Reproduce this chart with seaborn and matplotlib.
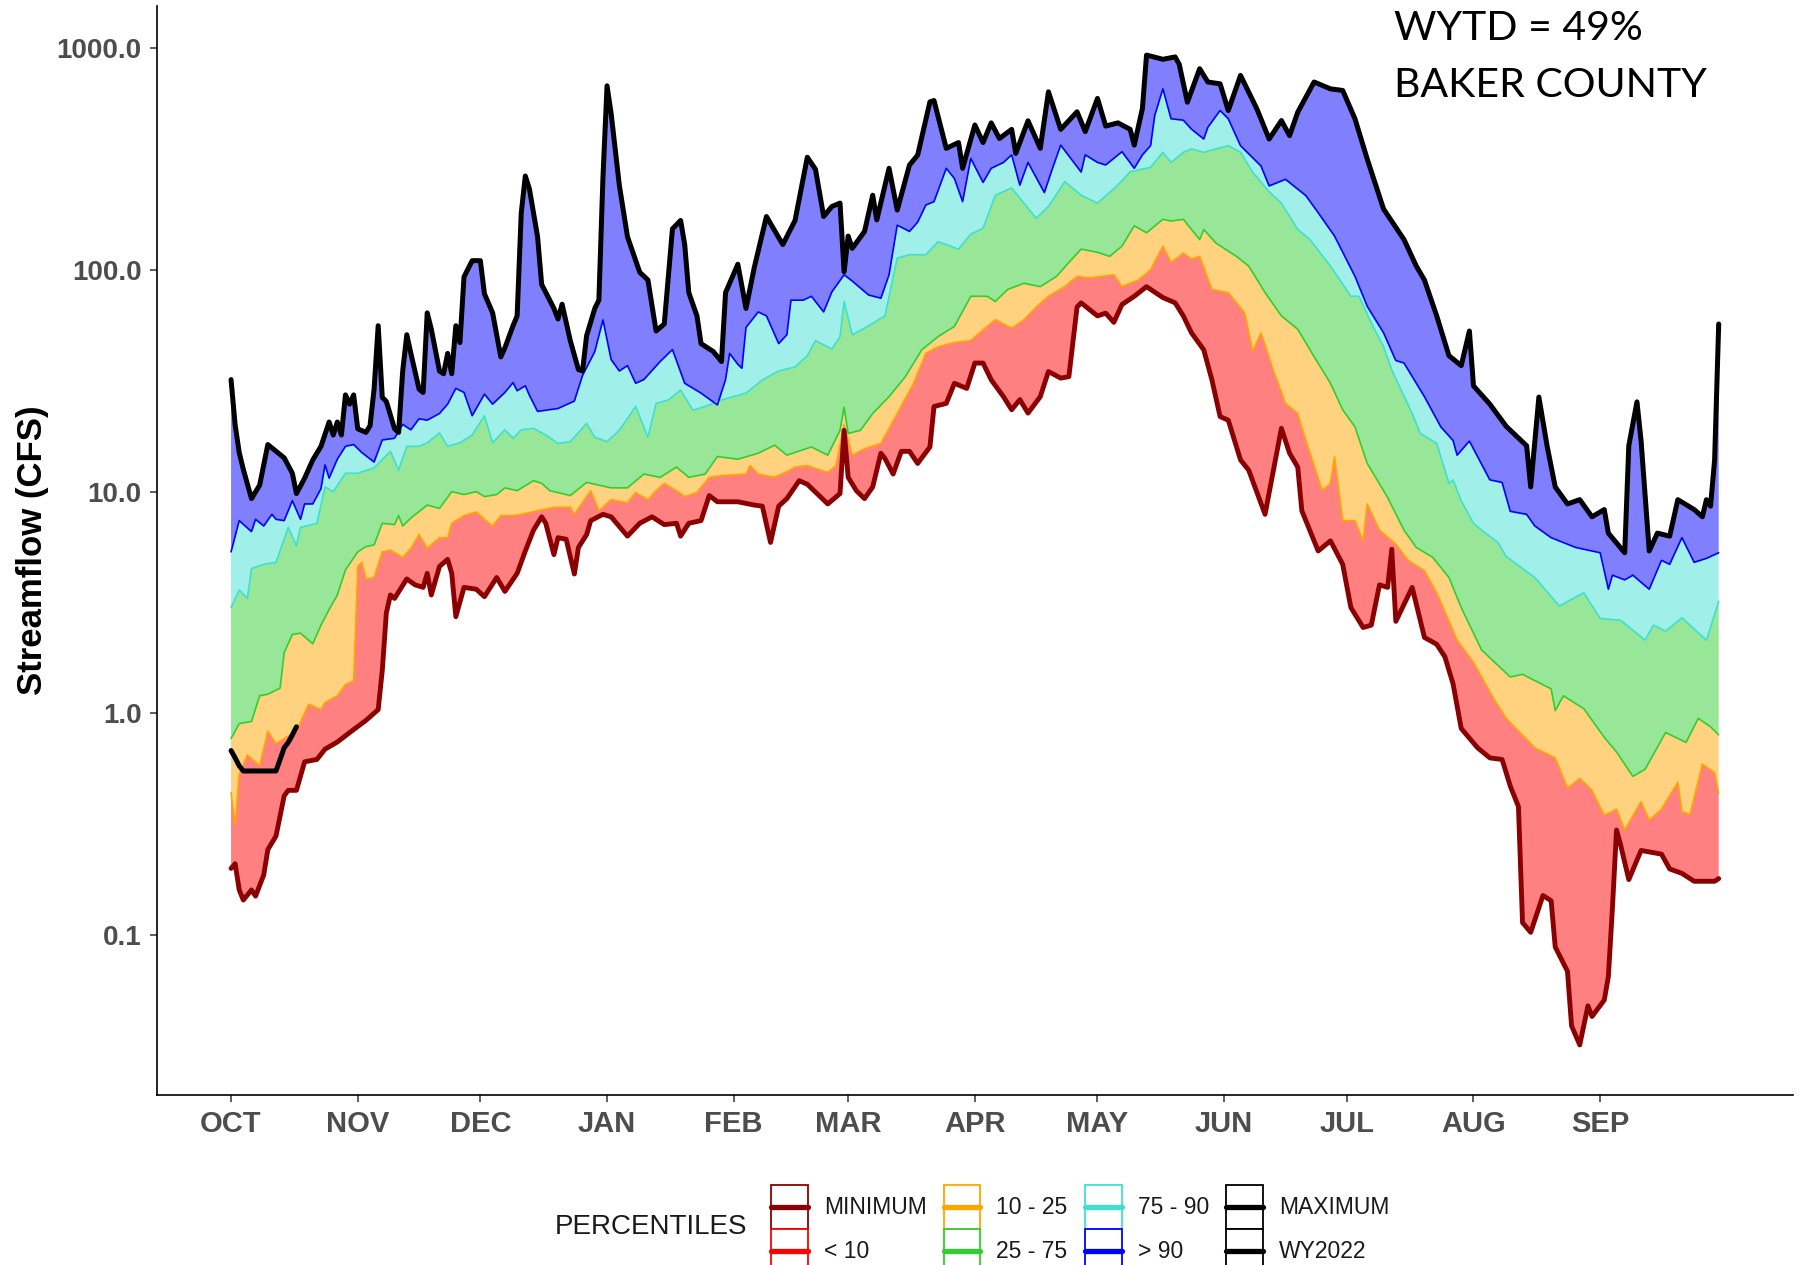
import numpy as np
import matplotlib
matplotlib.use("Agg")
import matplotlib.pyplot as plt
import seaborn as sns
from matplotlib.patches import Rectangle
from matplotlib.lines import Line2D

# day of water year (0 = Oct 1) and streamflow in CFS
max_day = [0, 1, 2, 3, 5, 7, 9, 13, 15, 16, 18, 20, 22, 24, 25, 26, 27, 28, 29, 30, 31, 33, 34, 35, 36, 37, 38, 40, 41, 42,
           43, 44, 46, 47, 48, 49, 51, 52, 53, 54, 55, 56, 57, 59, 61, 62, 64, 66, 67, 69, 70, 71, 72, 73, 75, 76, 79, 80,
           81, 83, 85, 86, 87, 89, 90, 91, 92, 93, 94, 95, 97, 99, 100, 102, 104, 106, 108, 110, 111, 112, 114, 115, 118,
           120, 121, 124, 126, 128, 131, 135, 138, 141, 143, 145, 147, 149, 150, 151, 152, 155, 157, 158, 161, 163, 166,
           168, 171, 172, 175, 178, 179, 182, 184, 186, 188, 191, 192, 195, 198, 200, 203, 207, 209, 212, 214, 217, 220,
           221, 223, 224, 228, 231, 232, 234, 237, 239, 242, 244, 247, 251, 254, 257, 259, 261, 265, 269, 272, 275, 278,
           282, 287, 290, 292, 295, 298, 301, 303, 304, 308, 312, 317, 318, 320, 322, 324, 327, 330, 333, 336, 337, 341,
           342, 344, 345, 347, 349, 352, 354, 358, 360, 361, 362, 363, 364]
max_cfs = [32, 20, 15, 12.6, 9.3, 10.7, 16.3, 14.2, 12.1, 9.8, 11.5, 13.9, 16, 20.6, 18, 20.6, 18, 27.3, 24.8, 27.3, 19.2,
           18.5, 19.8, 29, 56, 26.6, 25.5, 19.2, 18.5, 35, 51, 42, 29, 28, 64, 54, 35, 34, 42, 34, 56, 47, 93, 110, 110, 78,
           64, 40.5, 44.5, 56, 62, 180, 265, 232, 141, 86, 67, 60, 70, 48, 35.5, 35, 50.5, 67, 73, 262, 676, 507, 350, 241,
           141, 110, 97.5, 90, 53, 57, 153, 167, 130, 79, 62, 46.5, 42.8, 38.6, 79, 106, 67, 102, 174, 130, 167, 322, 284,
           174, 193, 200, 98, 142, 125, 149, 217, 168, 287, 186, 297, 329, 572, 580, 353, 375, 287, 450, 375, 460, 391,
           430, 335, 470, 353, 635, 430, 516, 420, 593, 445, 460, 430, 365, 535, 930, 890, 912, 845, 570, 807, 703, 690,
           523, 753, 532, 389, 471, 403, 514, 703, 655, 644, 480, 316, 188, 137, 104, 90, 62, 41, 37, 53, 30, 24.8, 19.7,
           16.1, 10.5, 26.7, 16.1, 10.5, 8.8, 9.2, 7.7, 8.3, 6.5, 5.3, 16.1, 25.4, 17, 5.4, 6.5, 6.3, 9.2, 8.3, 7.7, 9.2,
           8.6, 13.9, 57]

p90_day = [0, 2, 5, 6, 8, 10, 11, 13, 15, 17, 18, 20, 22, 23, 24, 26, 28, 30, 32, 35, 37, 40, 42, 44, 46, 48, 51, 53, 55,
           57, 59, 62, 64, 67, 69, 70, 72, 73, 75, 80, 84, 86, 89, 91, 93, 95, 97, 99, 101, 105, 108, 111, 115, 119, 121,
           122, 124, 125, 126, 129, 131, 134, 136, 137, 140, 142, 145, 147, 150, 152, 156, 159, 161, 163, 166, 168, 170,
           172, 175, 177, 179, 181, 184, 186, 189, 191, 193, 195, 199, 201, 203, 208, 209, 212, 214, 218, 221, 223, 225,
           226, 228, 230, 233, 235, 238, 239, 242, 244, 247, 252, 254, 258, 263, 266, 270, 275, 278, 282, 285, 287, 292,
           296, 299, 300, 303, 308, 311, 313, 317, 319, 323, 329, 335, 337, 338, 341, 343, 345, 347, 350, 352, 355, 358,
           361, 364]
p90_cfs = [5.35, 7.4, 6.6, 7.5, 7.0, 7.9, 7.5, 7.4, 9.1, 7.5, 8.8, 8.8, 10.3, 13.2, 11.5, 14, 16, 16.3, 15, 13.6, 17.1,
           17.4, 20.1, 19, 21.3, 21, 22.5, 24.8, 29.2, 28, 22, 27.5, 24.8, 28, 31, 28.5, 30, 27.2, 23, 23.7, 25.6, 33.4,
           42.8, 59.5, 39.4, 35, 37, 30.8, 32, 38.6, 43.7, 30.8, 27.8, 24.6, 32, 42, 37.5, 36, 55, 64.6, 62, 46.5, 51, 73,
           73, 76, 64.6, 79.5, 95, 89, 77, 74.5, 95, 159, 149, 164, 196, 203, 287, 258, 203, 318, 248, 287, 305, 330, 241,
           305, 223, 287, 365, 276, 330, 305, 297, 341, 287, 330, 363, 496, 655, 480, 473, 431, 389, 439, 523, 480, 363,
           294, 239, 256, 216, 181, 142, 93.5, 68.5, 52, 39, 38, 26.8, 19.6, 17, 14.6, 16.9, 11.3, 11, 8.15, 7.9, 7.0, 6.2,
           5.6, 5.3, 3.63, 4.2, 4.0, 4.2, 3.9, 3.63, 4.9, 4.7, 6.2, 4.8, 5.0, 5.3]

p75_day = [0, 2, 4, 5, 8, 11, 14, 16, 17, 21, 23, 25, 28, 31, 35, 39, 41, 43, 46, 48, 51, 53, 56, 59, 62, 64, 67, 69, 71,
           74, 77, 80, 83, 87, 89, 92, 95, 99, 102, 104, 107, 110, 113, 116, 120, 126, 130, 134, 138, 141, 143, 147, 149,
           150, 152, 155, 160, 163, 166, 170, 173, 178, 181, 184, 187, 191, 194, 197, 200, 204, 208, 212, 217, 220, 225,
           228, 230, 233, 235, 238, 241, 244, 247, 250, 254, 257, 261, 264, 269, 274, 276, 279, 282, 284, 289, 291, 295,
           298, 299, 301, 304, 306, 310, 312, 319, 325, 331, 335, 340, 346, 348, 351, 355, 358, 361, 364]
p75_cfs = [3.0, 3.6, 3.3, 4.5, 4.7, 4.8, 6.9, 5.7, 6.9, 7.2, 10.5, 10, 12.1, 12.1, 12.8, 15.2, 12.5, 16, 16, 16.6, 18.4,
           16, 16.6, 18, 22, 16.6, 19, 17.4, 19, 19.3, 18, 16.5, 16.8, 20.3, 17.6, 16.8, 18.9, 24.2, 17.6, 25, 25.9, 28.7,
           23.3, 24.2, 25.9, 27.8, 31.9, 35, 36.5, 41, 48, 44, 50, 72, 51, 54.6, 62, 113, 117, 117, 134, 124, 145, 154, 217,
           234, 200, 171, 193, 250, 217, 200, 241, 277, 290, 339, 305, 339, 351, 339, 351, 363, 339, 275, 225, 200, 152,
           137, 104, 76, 76, 57.6, 45, 35.4, 22.5, 18.3, 16.5, 10.9, 11.3, 9.1, 7.2, 6.7, 5.9, 5.1, 4.1, 3.05, 3.5, 2.68,
           2.63, 2.14, 2.5, 2.35, 2.7, 2.4, 2.14, 3.2]

p25_day = [0, 2, 5, 7, 9, 12, 13, 15, 17, 20, 22, 24, 26, 28, 31, 33, 35, 37, 40, 41, 42, 44, 48, 51, 54, 57, 60, 62, 65,
           67, 70, 74, 76, 78, 83, 87, 93, 97, 101, 105, 109, 112, 116, 119, 124, 129, 133, 136, 142, 146, 149, 150, 151,
           154, 157, 161, 165, 169, 173, 177, 181, 185, 187, 190, 194, 198, 202, 205, 208, 212, 215, 218, 221, 224, 228,
           230, 233, 237, 238, 241, 246, 249, 253, 257, 261, 265, 269, 272, 275, 278, 283, 287, 290, 294, 298, 301, 306,
           313, 316, 323, 324, 326, 331, 336, 339, 343, 346, 351, 356, 359, 362, 364]
p25_cfs = [0.77, 0.9, 0.92, 1.2, 1.22, 1.3, 1.88, 2.27, 2.3, 2.06, 2.5, 2.94, 3.42, 4.44, 5.35, 5.65, 5.75, 7.2, 7.1, 7.8,
           7.0, 7.6, 8.7, 8.4, 10, 9.7, 10, 9.5, 9.7, 10.4, 10.1, 11.2, 10.9, 10.1, 9.6, 11.0, 10.4, 10.4, 12.0, 11.6, 12.9,
           11.6, 12.0, 14.4, 14, 14.9, 16.2, 14.6, 15.9, 14.6, 18.9, 24, 18.3, 18.9, 22.5, 26.8, 33, 43.6, 50, 55.6, 76, 76,
           72, 81.5, 87, 84, 93.5, 108, 124, 120, 115, 128, 158, 147, 169, 166, 169, 137, 152, 132, 115, 104, 79, 62, 54,
           40.6, 30.8, 23.4, 19.6, 13.4, 9.4, 6.7, 5.6, 5.06, 4.1, 3.0, 1.93, 1.46, 1.5, 1.29, 1.03, 1.2, 1.05, 0.78, 0.67,
           0.52, 0.56, 0.82, 0.74, 0.95, 0.87, 0.8]

p10_day = [0, 1, 2, 4, 7, 9, 11, 13, 16, 19, 22, 23, 26, 28, 30, 31, 32, 33, 35, 37, 39, 42, 44, 46, 48, 51, 53, 54, 57,
           60, 62, 64, 66, 69, 71, 75, 79, 83, 84, 88, 90, 93, 97, 99, 102, 104, 106, 109, 111, 114, 117, 120, 126, 127,
           129, 133, 136, 138, 141, 142, 146, 148, 150, 152, 155, 159, 163, 167, 170, 173, 177, 181, 184, 187, 191, 194,
           197, 200, 204, 207, 210, 213, 216, 218, 222, 225, 228, 230, 233, 235, 237, 240, 244, 248, 250, 252, 255, 258,
           261, 263, 267, 269, 270, 272, 275, 277, 278, 281, 285, 288, 292, 295, 300, 304, 309, 312, 319, 324, 327, 330,
           333, 336, 339, 341, 345, 347, 350, 354, 355, 357, 360, 363, 364]
p10_cfs = [0.44, 0.315, 0.53, 0.65, 0.58, 0.83, 0.73, 0.77, 0.83, 1.1, 1.04, 1.12, 1.2, 1.35, 1.4, 4.6, 4.8, 4.04, 4.1,
           5.35, 5.45, 5.05, 5.55, 6.4, 5.55, 6.2, 6.2, 7.2, 7.8, 8.1, 7.5, 7.0, 7.8, 7.8, 7.9, 8.2, 8.5, 8.5, 7.9, 10.1,
           8.2, 9.2, 8.9, 9.9, 9.2, 10.1, 10.9, 10.1, 9.5, 9.9, 11.6, 11.8, 12.0, 13.1, 12, 11.6, 12.3, 12.9, 13.1, 12.9,
           12.2, 13.1, 20, 14.6, 15.6, 16.5, 22.5, 30.8, 42, 45, 47, 48, 53.7, 59.6, 54.6, 59.6, 68, 76, 84, 93.5, 92, 93.5,
           95, 84, 90, 100, 128, 108, 119, 112, 115, 81.5, 79, 64, 43, 52, 35.4, 25, 22.5, 17, 10.1, 10.9, 14.4, 7.4, 7.4,
           6.0, 8.8, 6.7, 5.8, 4.9, 4.4, 3.5, 2.14, 1.7, 1.16, 0.95, 0.70, 0.63, 0.46, 0.51, 0.45, 0.347, 0.37, 0.298, 0.4,
           0.33, 0.37, 0.49, 0.36, 0.35, 0.59, 0.54, 0.435]

min_day = [0, 1, 2, 3, 5, 6, 8, 9, 11, 13, 14, 16, 18, 21, 23, 26, 30, 33, 36, 37, 38, 39, 40, 43, 45, 47, 48, 49, 51, 53,
           54, 55, 57, 60, 62, 65, 67, 70, 72, 74, 76, 77, 79, 80, 82, 84, 85, 87, 88, 91, 93, 97, 100, 103, 106, 109,
           110, 112, 115, 117, 119, 124, 128, 130, 132, 134, 136, 139, 141, 146, 149, 150, 151, 153, 155, 157, 159, 160,
           162, 164, 166, 168, 171, 172, 175, 177, 180, 182, 184, 186, 189, 191, 193, 195, 198, 200, 203, 205, 207, 208,
           212, 214, 216, 218, 221, 224, 228, 231, 233, 235, 238, 240, 242, 244, 247, 249, 253, 257, 259, 261, 262, 266,
           269, 272, 274, 277, 279, 281, 283, 284, 285, 289, 292, 295, 297, 299, 301, 305, 308, 311, 313, 315, 316, 318,
           321, 323, 324, 327, 328, 330, 332, 333, 336, 337, 338, 339, 340, 342, 345, 350, 352, 355, 358, 363, 364]
min_cfs = [0.20, 0.21, 0.16, 0.144, 0.16, 0.15, 0.187, 0.243, 0.28, 0.425, 0.45, 0.45, 0.605, 0.62, 0.69, 0.743, 0.846,
           0.93, 1.04, 1.56, 2.84, 3.42, 3.3, 4.04, 3.8, 3.7, 4.28, 3.42, 4.6, 4.95, 4.28, 2.73, 3.7, 3.63, 3.36, 4.1, 3.55,
           4.28, 5.4, 6.7, 7.7, 7.2, 5.2, 6.2, 6.1, 4.25, 5.6, 6.4, 7.4, 7.9, 7.7, 6.3, 7.2, 7.7, 7.1, 7.2, 6.3, 7.2, 7.4,
           9.6, 9.0, 9.0, 8.7, 8.6, 5.9, 8.6, 9.3, 11.2, 10.8, 8.8, 9.8, 18.9, 11.6, 10.1, 9.3, 10.5, 14.9, 14.1, 12, 15.2,
           15.2, 13.4, 15.9, 24.2, 25, 30.8, 29.2, 38, 38, 31.9, 26.8, 23.4, 26, 22.6, 26.8, 34.8, 32.5, 33, 68, 71, 62,
           63.8, 58, 69.8, 76, 84, 75, 71, 62, 52, 43.6, 31.9, 21.8, 21, 13.9, 12.5, 7.9, 19.3, 14.9, 12.9, 8.2, 5.4, 6.0,
           4.7, 3.0, 2.44, 2.5, 3.8, 3.7, 5.5, 2.6, 3.7, 2.2, 2.05, 1.8, 1.36, 0.855, 0.70, 0.63, 0.62, 0.47, 0.38, 0.114,
           0.103, 0.151, 0.143, 0.0885, 0.0687, 0.039, 0.032, 0.048, 0.043, 0.051, 0.065, 0.133, 0.298, 0.255, 0.178,
           0.241, 0.232, 0.199, 0.19, 0.175, 0.175, 0.18]

wy_day = [0, 1, 2, 3, 4, 5, 6, 7, 8, 9, 10, 11, 12, 13, 14, 15, 16]
wy_cfs = [0.68, 0.63, 0.58, 0.55, 0.55, 0.55, 0.55, 0.55, 0.55, 0.55, 0.55, 0.55, 0.62, 0.70, 0.74, 0.80, 0.87]

month_day = [0, 31, 61, 92, 123, 151, 182, 212, 243, 273, 304, 335]
month_lab = ['OCT', 'NOV', 'DEC', 'JAN', 'FEB', 'MAR', 'APR', 'MAY', 'JUN', 'JUL', 'AUG', 'SEP']
y_ticks = [0.1, 1, 10, 100, 1000]
y_labs = ['0.1', '1.0', '10.0', '100.0', '1000.0']

legend_lab = ['MINIMUM', '< 10', '10 - 25', '25 - 75', '75 - 90', '> 90', 'MAXIMUM', 'WY2022']
legend_col = ['#8B0000', '#FF0000', '#FFA500', '#32CD32', '#40E0D0', '#0000FF', '#000000', '#000000']

sns.set_style("ticks")
plt.rcParams['font.family'] = ['Liberation Sans', 'DejaVu Sans']

fig = plt.figure(figsize=(18.07, 12.65), dpi=100)
ax = fig.add_axes([0.0867, 0.1345, 0.9056, 0.8608])
ax.set_yscale('log')


def band(lo_d, lo_v, hi_d, hi_v, color):
    xs = np.r_[np.asarray(hi_d, float), np.asarray(lo_d, float)[::-1]]
    ys = np.r_[np.asarray(hi_v, float), np.asarray(lo_v, float)[::-1]]
    ax.fill(xs, ys, color=color, lw=0)


band(min_day, min_cfs, p10_day, p10_cfs, '#FF8080')
band(p10_day, p10_cfs, p25_day, p25_cfs, '#FFD280')
band(p25_day, p25_cfs, p75_day, p75_cfs, '#98E698')
band(p75_day, p75_cfs, p90_day, p90_cfs, '#A0EFE8')
band(p90_day, p90_cfs, max_day, max_cfs, '#8080FF')

thin = [(p10_day, p10_cfs, '#FFA500'), (p25_day, p25_cfs, '#32CD32'),
        (p75_day, p75_cfs, '#40E0D0'), (p90_day, p90_cfs, '#0000FF')]
for d, v, c in thin:
    sns.lineplot(x=d, y=v, ax=ax, color=c, lw=1.2, estimator=None, sort=False, legend=False)

sns.lineplot(x=min_day, y=min_cfs, ax=ax, color='#8B0000', lw=3.5, estimator=None, sort=False, legend=False)
sns.lineplot(x=max_day, y=max_cfs, ax=ax, color='black', lw=3.6, estimator=None, sort=False, legend=False)
sns.lineplot(x=wy_day, y=wy_cfs, ax=ax, color='black', lw=3.6, estimator=None, sort=False, legend=False)

ax.set_xlim(-18.2, 382.2)
ax.set_ylim(10 ** -1.72, 10 ** 3.19)
ax.minorticks_off()
ax.set_yticks(y_ticks, y_labs, fontsize=20, fontweight='bold')
ax.set_xticks(month_day, month_lab, fontsize=21, fontweight='bold')
ax.tick_params(axis='both', length=5, width=1.1, color='#333333', labelcolor='#4D4D4D', pad=6)
ax.set_xlabel('')
ax.set_ylabel('Streamflow (CFS)', fontsize=25, fontweight='bold', color='black')
ax.yaxis.set_label_coords(-0.066, 0.5)
sns.despine(ax=ax)
for s in ['left', 'bottom']:
    ax.spines[s].set_color('black')
    ax.spines[s].set_linewidth(1.2)


class KeyHandler:
    # white box with coloured border and a thick line through its middle
    def legend_artist(self, legend, orig_handle, fontsize, handlebox):
        x0, y0 = -handlebox.xdescent, -handlebox.ydescent
        w, h = handlebox.width, handlebox.height
        c = orig_handle.get_color()
        box = Rectangle((x0, y0), w, h, facecolor='white', edgecolor=c, lw=1.3,
                        transform=handlebox.get_transform())
        mid = Line2D([x0, x0 + w], [y0 + h / 2, y0 + h / 2], color=c, lw=3.8,
                     transform=handlebox.get_transform())
        handlebox.add_artist(box)
        handlebox.add_artist(mid)
        return box


handles = [Line2D([], [], color=c) for c in legend_col]
fig.legend(handles, legend_lab, handler_map={Line2D: KeyHandler()}, ncol=4,
           loc='lower left', bbox_to_anchor=(0.4267, -0.006), frameon=False, fontsize=16.5,
           handlelength=1.6, handleheight=2.57, handletextpad=0.7, columnspacing=0.75,
           labelspacing=0.0, borderpad=0, borderaxespad=0, labelcolor='#1A1A1A')
fig.text(0.307, 0.030, 'PERCENTILES', fontsize=20, color='#1A1A1A', va='center', ha='left')

fig.text(0.7716, 0.968, 'WYTD = 49%', fontsize=29.5, family=['Lato', 'DejaVu Sans'], color='black', va='baseline')
fig.text(0.7716, 0.9235, 'BAKER COUNTY', fontsize=29.5, family=['Lato', 'DejaVu Sans'], color='black', va='baseline')

fig.savefig('out.png', dpi=100)
